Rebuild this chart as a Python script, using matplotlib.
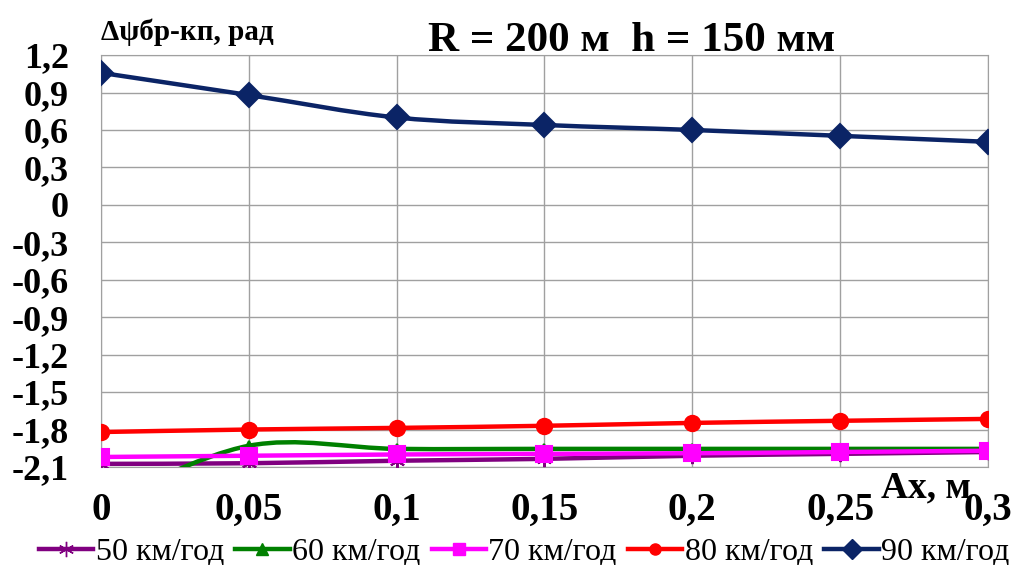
import numpy as np
import matplotlib.pyplot as plt
from matplotlib.path import Path
from matplotlib.patches import PathPatch
from matplotlib.lines import Line2D
from matplotlib.ticker import FuncFormatter

plt.rcParams['font.family'] = ['Liberation Serif', 'DejaVu Serif']

ax_m = [0, 0.05, 0.1, 0.15, 0.2, 0.25, 0.3]
x_ticks = [0, 0.05, 0.1, 0.15, 0.2, 0.25, 0.3]
y_ticks = [1.2, 0.9, 0.6, 0.3, 0, -0.3, -0.6, -0.9, -1.2, -1.5, -1.8, -2.1]

v50 = [-2.075, -2.07, -2.05, -2.035, -2.01, -1.995, -1.98]
v60 = [-2.40, -1.93, -1.955, -1.955, -1.955, -1.955, -1.955]
v70 = [-2.02, -2.01, -2.0, -1.995, -1.99, -1.98, -1.97]
v80 = [-1.82, -1.80, -1.787, -1.77, -1.747, -1.73, -1.715]
v90 = [1.058, 0.88, 0.70, 0.64, 0.60, 0.553, 0.505]

labels = ['50 км/год', '60 км/год', '70 км/год', '80 км/год', '90 км/год']
series = [v50, v60, v70, v80, v90]
colors = ['#800080', '#008000', '#ff00ff', '#ff0000', '#0b2466']
markers = [(6, 2, 0), '^', 's', 'o', 'D']
msizes = [11, 7, 11, 11, 12]
leg_ms = [11, 8, 9, 8, 10]


def smooth_path(x, y):
    # excel-like smoothed line: cubic bezier through the points
    pts = np.column_stack([x, y])
    n = len(pts)
    verts = [pts[0]]
    codes = [Path.MOVETO]
    for i in range(n - 1):
        p0 = pts[max(i - 1, 0)]
        p1 = pts[i]
        p2 = pts[i + 1]
        p3 = pts[min(i + 2, n - 1)]
        verts += [p1 + (p2 - p0) / 6, p2 - (p3 - p1) / 6, p2]
        codes += [Path.CURVE4] * 3
    return Path(verts, codes)


fig = plt.figure(figsize=(10.16, 5.65), dpi=100)
ax = fig.add_axes([0.0994, 0.1735, 0.873, 0.729])

for y, c, m, ms in zip(series, colors, markers, msizes):
    patch = PathPatch(smooth_path(ax_m, y), fc='none', ec=c, lw=3.2,
                      transform=ax.transData, zorder=3)
    ax.add_patch(patch)
    ax.plot(ax_m, y, ls='none', marker=m, color=c, mec=c, ms=ms, mew=1.5, zorder=4)

ax.set_xlim(0, 0.3)
ax.set_ylim(-2.1, 1.2)
ax.set_xticks(x_ticks)
ax.set_yticks(y_ticks)
ax.xaxis.set_major_formatter(FuncFormatter(lambda v, p: f'{v:g}'.replace('.', ',')))
ax.yaxis.set_major_formatter(FuncFormatter(lambda v, p: f'{v:g}'.replace('.', ',')))
ax.grid(True, color='#a0a0a0', lw=1)
for s in ax.spines.values():
    s.set_color('#a0a0a0')
ax.tick_params(length=0)
ax.tick_params(axis='x', pad=18, labelsize=28)
ax.tick_params(axis='y', pad=23, labelsize=26)
for t in ax.get_xticklabels() + ax.get_yticklabels():
    t.set_fontweight('bold')

fig.text(0.622, 1 - 51 / 565, 'R = 200 м  h = 150 мм', ha='center', va='baseline',
         fontsize=31, fontweight='bold')
fig.text(0.099, 1 - 40 / 565, 'Δψбр-кп, рад', ha='left', va='baseline',
         fontsize=21, fontweight='bold')
fig.text(0.956, 1 - 497 / 565, 'Ax, м', ha='right', va='baseline',
         fontsize=27, fontweight='bold')

handles = [Line2D([], [], color=c, lw=3.2, marker=m, ms=ms, mec=c)
           for c, m, ms in zip(colors, markers, leg_ms)]
fig.legend(handles, labels, loc='center', bbox_to_anchor=(0.516, 1 - 552 / 565),
           ncol=5, frameon=False, fontsize=23, handlelength=1.7,
           handletextpad=0.08, columnspacing=0.35, borderpad=0, borderaxespad=0)

fig.savefig('out.png', dpi=100)
